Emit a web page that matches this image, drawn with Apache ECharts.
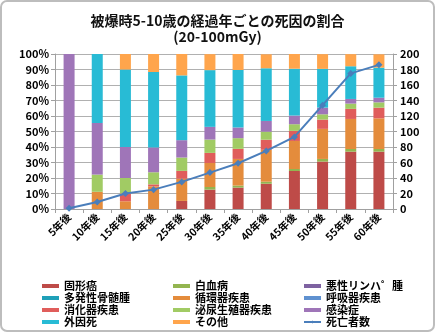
<!DOCTYPE html>
<html>
<head>
<meta charset="utf-8">
<script src="https://cdn.jsdelivr.net/npm/echarts@6/dist/echarts.min.js"></script>
<style>
html,body{margin:0;padding:0;background:#fff;}
#c{width:435px;height:332px;}
</style>
</head>
<body>
<div id="c"></div>
<script>
const categories = ['5年後','10年後','15年後','20年後','25年後','30年後','35年後','40年後','45年後','50年後','55年後','60年後'];
const solidCancer   = [0,0,0,0,5.2,12.5,13.8,16.3,24.5,30.6,37,37];
const leukemia      = [0,0,0,0,0,1.7,1.3,1.3,1.3,1.7,1.7,1.7];
const lymphoma      = [0,0,0,0,0,0,0,0,0,0,0,0];
const myeloma       = [0,0,0,0,0,0,0,0,0,0,0,0];
const circulatory   = [0,11.1,5,14.6,14.4,15.5,17.2,20.6,18.1,19.4,19.4,19.8];
const respiratory   = [0,0,0,0,0,0,0,0,0,0,0,0];
const digestive     = [0,0,5,1.3,5,6.5,6.5,6.5,6.5,6,6.5,6.9];
const urogenital    = [0,11.1,10,7.8,8.6,8.6,6.9,5.2,4.3,3.4,3.4,3.4];
const infection     = [100,33.3,20,16,11.2,8.2,6.9,6.9,5.6,4.3,3,3];
const external      = [0,44.5,50,48.7,41.8,36.6,37.1,34,30.2,25,21.1,19.4];
const other         = [0,0,10,11.6,13.8,10.3,10.3,9,9.5,9.5,7.8,8.6];
const deaths        = [1,9,20,25,35,47,59,75,93,134,175,186];
const leftTicks = {min:0, max:100, interval:10};
const rightTicks = {min:0, max:200, interval:20};

const barDefs = [
  ['固形癌', solidCancer, '#BE4B48'],
  ['白血病', leukemia, '#93B550'],
  ['悪性リンハ゜腫', lymphoma, '#7E62A1'],
  ['多発性骨髄腫', myeloma, '#1FA0B8'],
  ['循環器疾患', circulatory, '#E48C3C'],
  ['呼吸器疾患', respiratory, '#5F91D0'],
  ['消化器疾患', digestive, '#E05D5B'],
  ['泌尿生殖器疾患', urogenital, '#A1CB64'],
  ['感染症', infection, '#9F75B8'],
  ['外因死', external, '#28BBD5'],
  ['その他', other, '#FFA54C']
];

const font = '"Noto Sans CJK JP", "Noto Sans", sans-serif';
const chart = echarts.init(document.getElementById('c'), null, {renderer:'canvas'});
const series = barDefs.map(([name, data, color]) => ({
  name, type:'bar', stack:'total', data, barWidth:11,
  itemStyle:{color}, emphasis:{disabled:true}
}));
series.push({
  name:'死亡者数', type:'line', yAxisIndex:1, data:deaths,
  color:'#4A7EBB', lineStyle:{width:2, color:'#4A7EBB'},
  symbol:'diamond', symbolSize:7, itemStyle:{color:'#4A7EBB'}, z:10
});

const legendCommon = {
  orient:'vertical', top:280, height:60, itemWidth:17, itemHeight:4, itemGap:0, padding:0,
  textStyle:{fontFamily:font, fontSize:11, fontWeight:'bold', color:'#000', lineHeight:12}
};

chart.setOption({
  animation:false,
  backgroundColor:'#fff',
  textStyle:{fontFamily:font},
  title:{
    text:'被爆時5-10歳の経過年ごとの死因の割合\n(20-100mGy)',
    left:'center', top:8,
    textStyle:{fontFamily:font, fontSize:14, fontWeight:'bold', color:'#111', lineHeight:16}
  },
  graphic:[{type:'rect', shape:{x:1, y:1, width:433, height:330, r:6}, style:{fill:null, stroke:'#BDBDBD', lineWidth:2}, silent:true}],
  legend:[
    Object.assign({left:42, icon:'rect', data:['固形癌','多発性骨髄腫','消化器疾患','外因死']}, legendCommon),
    Object.assign({left:173, icon:'rect', data:['白血病','循環器疾患','泌尿生殖器疾患','その他']}, legendCommon),
    Object.assign({left:303, data:[{name:'悪性リンハ゜腫', icon:'rect'},{name:'呼吸器疾患', icon:'rect'},{name:'感染症', icon:'rect'},{name:'死亡者数'}]}, legendCommon)
  ],
  grid:{left:55, right:42, top:54, bottom:123},
  xAxis:{
    type:'category', data:categories,
    axisLine:{lineStyle:{color:'#A0A0A0'}},
    axisTick:{show:true, length:4, lineStyle:{color:'#A0A0A0'}},
    axisLabel:{rotate:45, fontSize:10.5, fontWeight:'bold', color:'#000', fontFamily:font, margin:6, interval:0}
  },
  yAxis:[{
    type:'value', min:leftTicks.min, max:leftTicks.max, interval:leftTicks.interval,
    axisLabel:{formatter:'{value}%', fontSize:11, fontWeight:'bold', color:'#000', fontFamily:font, margin:6},
    axisLine:{show:true, lineStyle:{color:'#A0A0A0'}},
    axisTick:{show:true, length:4, lineStyle:{color:'#A0A0A0'}},
    splitLine:{lineStyle:{color:'#B0B0B0', width:1}}
  },{
    type:'value', min:rightTicks.min, max:rightTicks.max, interval:rightTicks.interval,
    axisLabel:{fontSize:11, fontWeight:'bold', color:'#000', fontFamily:font, margin:7},
    axisLine:{show:true, lineStyle:{color:'#A0A0A0'}},
    axisTick:{show:true, length:4, lineStyle:{color:'#A0A0A0'}},
    splitLine:{show:false}
  }],
  series
});
</script>
</body>
</html>
